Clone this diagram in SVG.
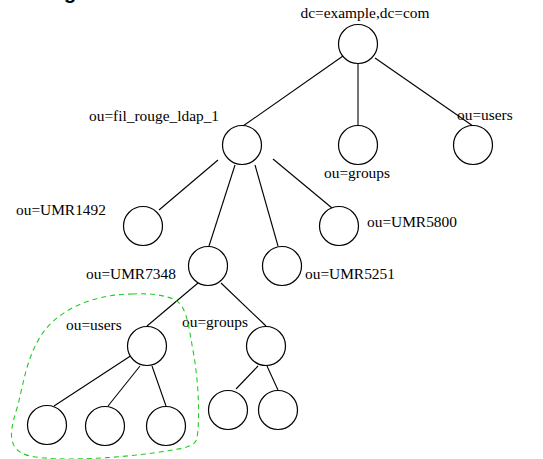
<svg xmlns="http://www.w3.org/2000/svg" width="543" height="459" viewBox="0 0 543 459">
<style>
.n{fill:#fff;stroke:#000;stroke-width:1.2}
.e{stroke:#000;stroke-width:1.1;fill:none}
.t{font-family:'Liberation Serif','Times New Roman','DejaVu Serif',serif;font-size:15.4px;fill:#000}
.g{fill:none;stroke:#22cc22;stroke-width:1.1;stroke-dasharray:5 4}
</style>
<rect width="543" height="459" fill="#fff"/>
<text x="64" y="-1" font-family="'Liberation Sans',sans-serif" font-size="20" font-weight="bold">g</text>
<g id="connectors">
<line class="e" x1="343" y1="56" x2="243" y2="126"/>
<line class="e" x1="358" y1="64" x2="358" y2="126"/>
<line class="e" x1="375" y1="58" x2="473" y2="126"/>
<line class="e" x1="218" y1="160" x2="159" y2="210"/>
<line class="e" x1="235" y1="165" x2="209" y2="246"/>
<line class="e" x1="255" y1="165" x2="278" y2="246"/>
<line class="e" x1="273" y1="159" x2="332" y2="208"/>
<line class="e" x1="198" y1="283" x2="147" y2="326"/>
<line class="e" x1="221" y1="283" x2="266" y2="326"/>
<line class="e" x1="132" y1="355" x2="54" y2="406"/>
<line class="e" x1="140" y1="366" x2="108" y2="406"/>
<line class="e" x1="152" y1="366" x2="166" y2="406"/>
<line class="e" x1="258" y1="366" x2="236" y2="389"/>
<line class="e" x1="267" y1="366" x2="278" y2="390"/>
</g>
<g id="root"><circle class="n" cx="358" cy="44" r="19.5"/><text class="t" font-family="Liberation Serif, serif" x="365" y="18" text-anchor="middle">dc=example,dc=com</text></g>
<g id="fil_rouge"><circle class="n" cx="242" cy="145" r="19.5"/><text class="t" font-family="Liberation Serif, serif" x="89" y="121">ou=fil_rouge_ldap_1</text></g>
<g id="groups_top"><circle class="n" cx="358" cy="145" r="19.5"/><text class="t" font-family="Liberation Serif, serif" x="324" y="178">ou=groups</text></g>
<g id="users_top"><circle class="n" cx="473" cy="145" r="19.5"/><text class="t" font-family="Liberation Serif, serif" x="457" y="120">ou=users</text></g>
<g id="umr1492"><circle class="n" cx="143" cy="226" r="19.5"/><text class="t" font-family="Liberation Serif, serif" x="16" y="215">ou=UMR1492</text></g>
<g id="umr5800"><circle class="n" cx="339" cy="226" r="19.5"/><text class="t" font-family="Liberation Serif, serif" x="367" y="227">ou=UMR5800</text></g>
<g id="umr7348"><circle class="n" cx="208" cy="266" r="19.5"/><text class="t" font-family="Liberation Serif, serif" x="86" y="279">ou=UMR7348</text></g>
<g id="umr5251"><circle class="n" cx="282" cy="266" r="19.5"/><text class="t" font-family="Liberation Serif, serif" x="305" y="279">ou=UMR5251</text></g>
<g id="users"><circle class="n" cx="147" cy="346" r="19.5"/><text class="t" font-family="Liberation Serif, serif" x="66" y="330">ou=users</text></g>
<g id="groups"><circle class="n" cx="266" cy="346" r="19.5"/><text class="t" font-family="Liberation Serif, serif" x="182" y="327">ou=groups</text></g>
<g id="leaf1"><circle class="n" cx="47" cy="425" r="19.5"/></g>
<g id="leaf2"><circle class="n" cx="105" cy="426" r="19.5"/></g>
<g id="leaf3"><circle class="n" cx="166" cy="426" r="19.5"/></g>
<g id="leaf4"><circle class="n" cx="228" cy="410" r="19.5"/></g>
<g id="leaf5"><circle class="n" cx="278" cy="410" r="19.5"/></g>
<path class="g" d="M133 294 C100 294 65 305 45 330 C28 352 24 380 18 405 C10 430 5 450 30 456 C60 462 120 458 160 452 C185 448 195 447 197 438 C200 420 199 380 192 345 C188 320 185 305 175 300 C165 295 150 293 133 294 Z"/>
</svg>
